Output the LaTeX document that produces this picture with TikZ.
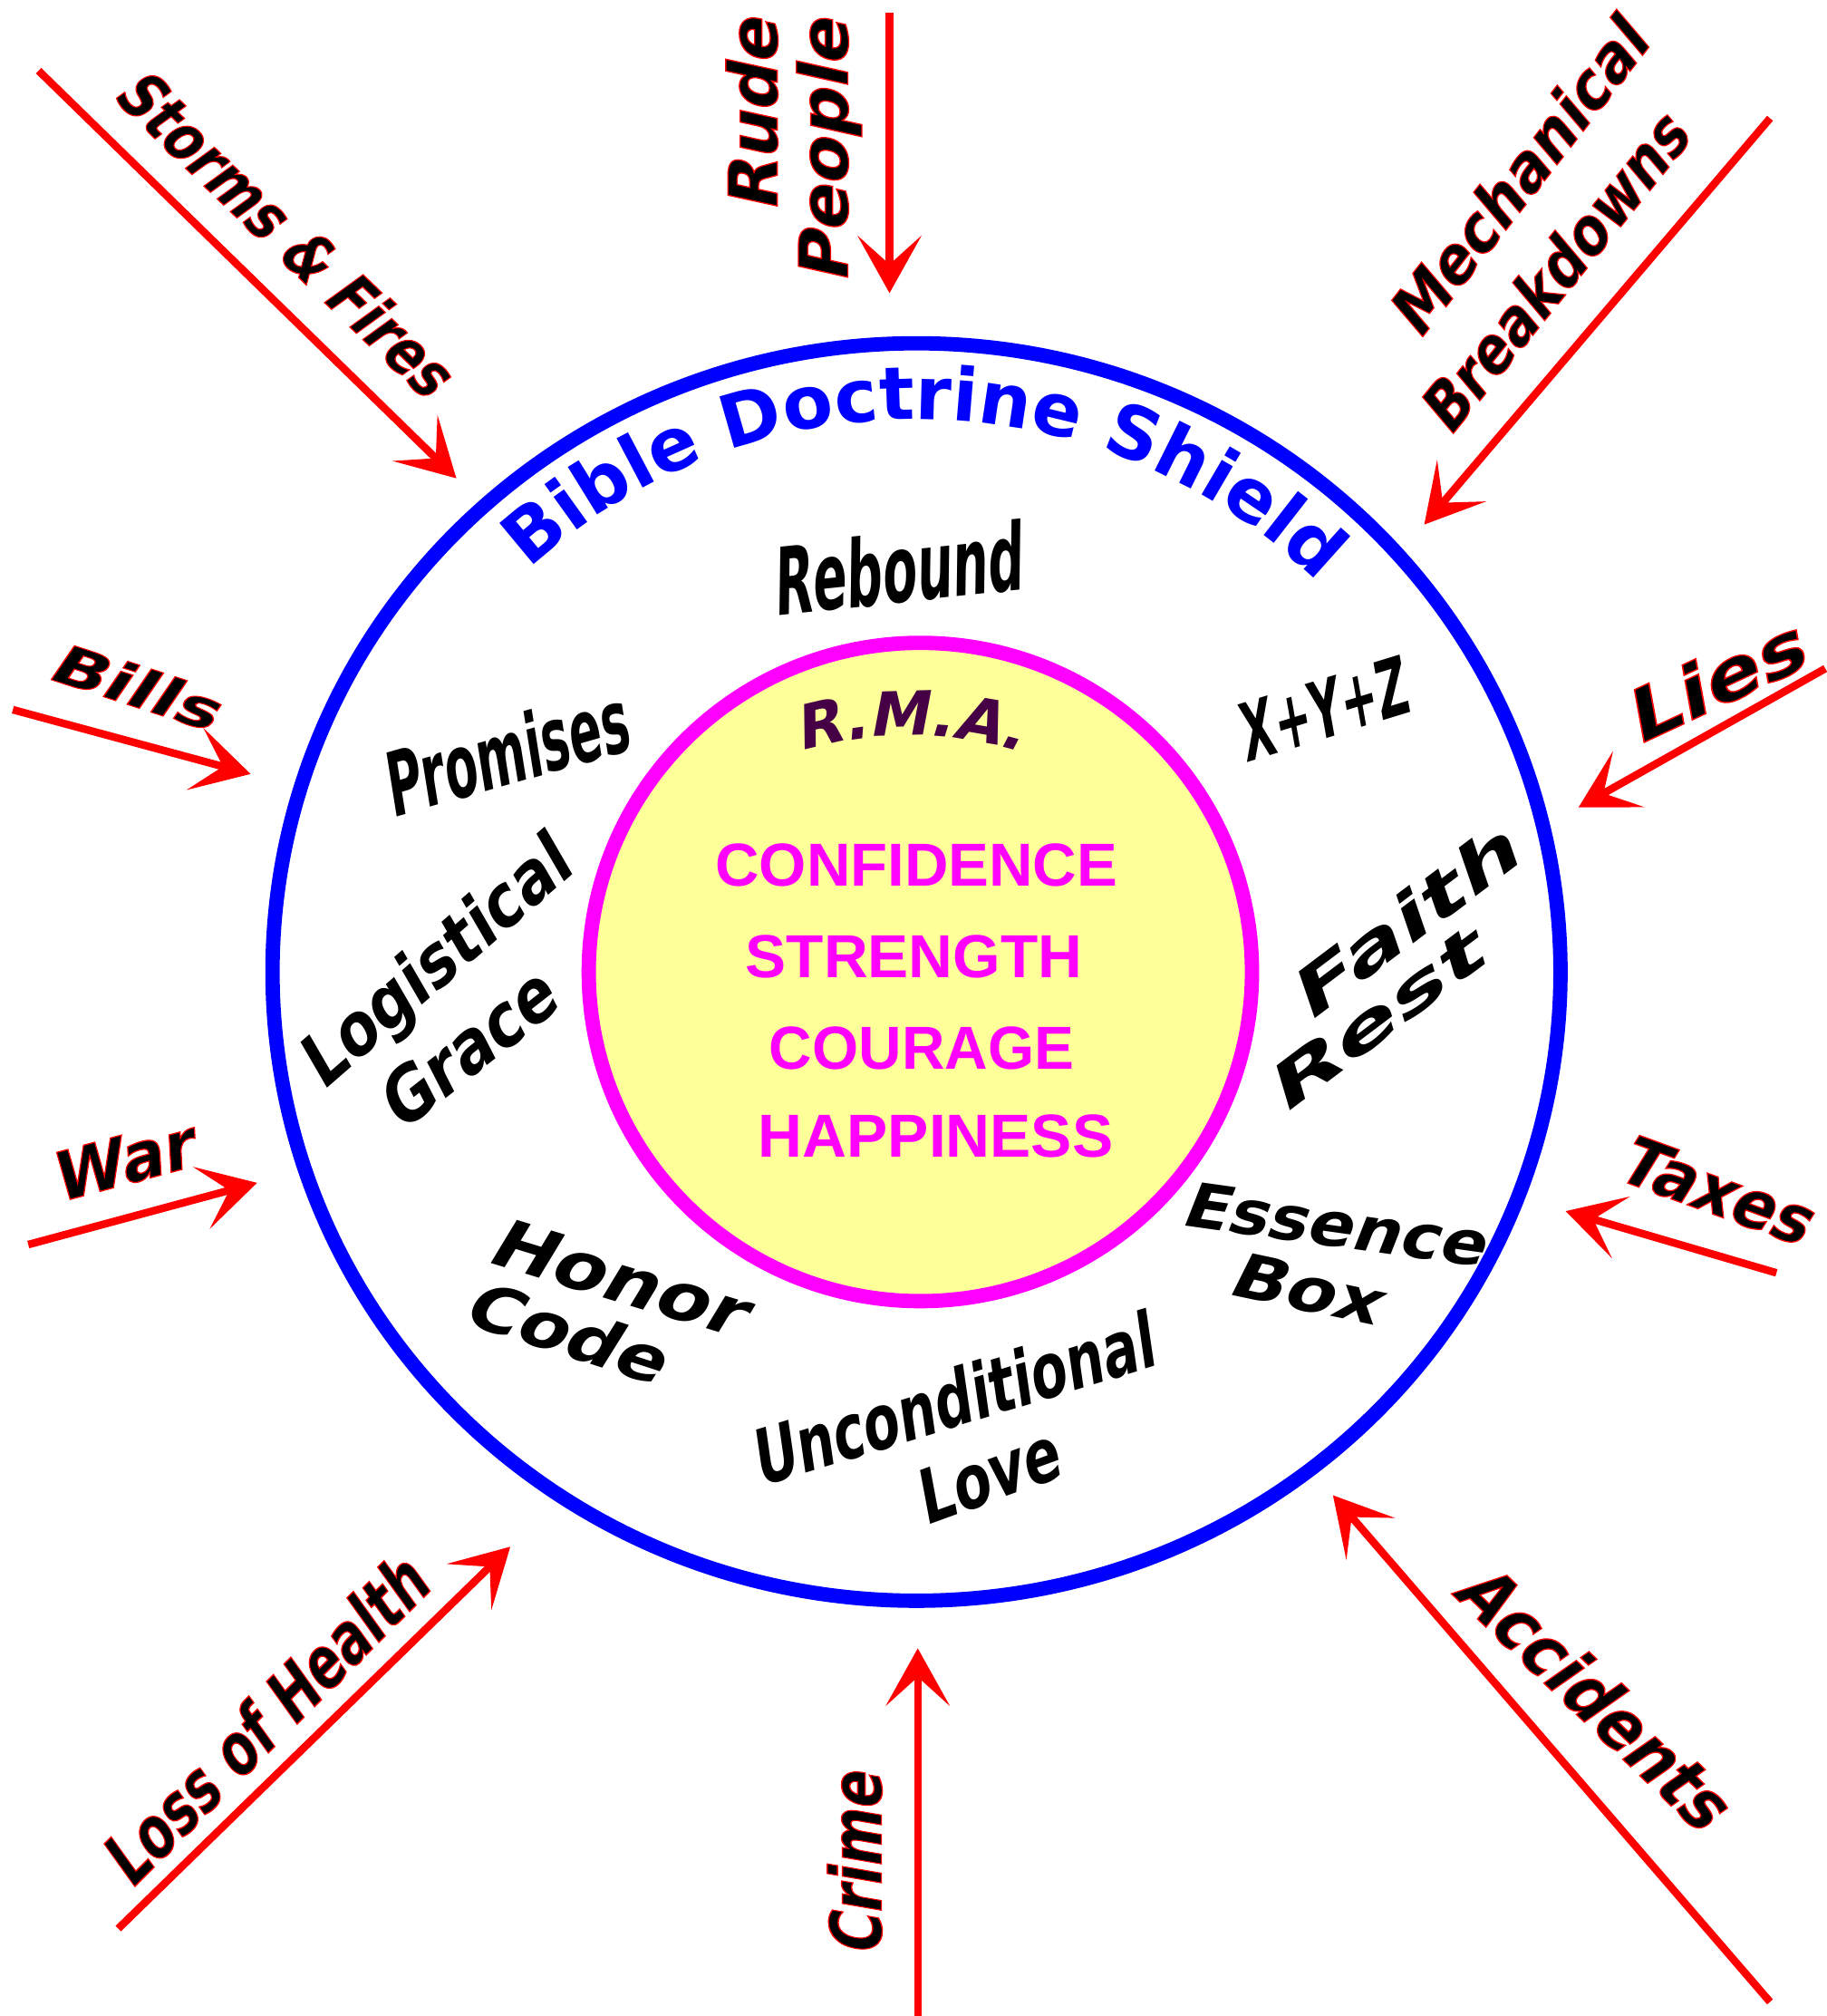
\documentclass[tikz,border=0pt]{standalone}
\usepackage{fontspec}
\setmainfont{Liberation Sans}
\newfontfamily\heavy{DejaVu Sans Bold}
\newfontfamily\heavyslant{DejaVu Sans Bold}[FakeSlant=0.22]
\usepackage{graphicx}
\usetikzlibrary{arrows.meta}
\usetikzlibrary{decorations.text}
\definecolor{shieldblue}{RGB}{0,0,255}
\definecolor{rmapink}{RGB}{255,0,255}
\definecolor{rmafill}{RGB}{255,255,153}
\definecolor{rmaword}{RGB}{70,0,70}
\newlength\upx
\setlength\upx{0.01418cm}
\newcommand\art[3]{\resizebox{#1\upx}{#2\upx}{#3}}
\newcommand\hurt[1]{\special{pdf:literal direct 2 Tr 1 0 0 RG 0.35 w}#1}
\tikzstyle{hit}=[line width=2.4pt,red,-{Stealth[length=18pt,width=20pt,inset=9pt]}]
\tikzstyle{trouble}=[inner sep=0pt,font=\heavyslant\fontsize{20}{20}\selectfont]
\tikzstyle{virtue}=[inner sep=0pt,font=\heavyslant\fontsize{20}{20}\selectfont]
\tikzstyle{result}=[inner sep=0pt,text=rmapink,font=\bfseries\fontsize{20}{20}\selectfont]
\begin{document}
\begin{tikzpicture}[x=0.01418cm,y=-0.01418cm]
	\useasboundingbox (0,0) rectangle (1421,1568);
	% the shield and the core
	\draw[shieldblue,line width=4.5pt] (713,756) ellipse [x radius=501,y radius=489];
	\draw[rmapink,line width=4.5pt,fill=rmafill] (716,756) ellipse [x radius=258,y radius=256];
	\path[decorate,decoration={text along path,text align=center,
	  text={|\heavy\fontsize{23}{23}\selectfont\color{shieldblue}|Bible Doctrine Shield}}]
	  (713,756) ++(-140:440 and 430) arc [start angle=-140,end angle=-38,x radius=440,y radius=430];
	\path[decorate,decoration={text along path,text align=center,
	  text={|\heavyslant\fontsize{19}{19}\selectfont\color{rmaword}|R.M.A.}}]
	  (708,870) ++(-118:298) arc [start angle=-118,end angle=-62,radius=298];
	\node[result] (conf)  at (713,673) {\art{313}{33}{CONFIDENCE}};
	\node[result] (str)   at (711,744) {\art{262}{33}{STRENGTH}};
	\node[result] (cour)  at (717,815) {\art{237}{33}{COURAGE}};
	\node[result] (happy) at (728,884) {\art{276}{33}{HAPPINESS}};
	% doctrines inside the shield
	\node[virtue,rotate=6]   (rebound)  at (697,442)  {\art{195}{55}{Rebound}};
	\node[virtue,rotate=16]  (promises) at (392,585)  {\art{195}{52}{Promises}};
	\node[virtue,rotate=17]  (xyz)      at (1028,552) {\art{135}{45}{X+Y+Z}};
	\node[virtue,rotate=41]  (logist)   at (340,752)  {\art{262}{42}{Logistical}};
	\node[virtue,rotate=38]  (grace)    at (362,816)  {\art{160}{42}{Grace}};
	\node[virtue,rotate=37]  (faith)    at (1090,718) {\art{210}{38}{Faith}};
	\node[virtue,rotate=37]  (rest)     at (1068,795) {\art{200}{34}{Rest}};
	\node[virtue,rotate=-8]  (essence)  at (1037,952) {\art{237}{35}{Essence}};
	\node[virtue,rotate=-12] (box)      at (1015,1002){\art{118}{35}{Box}};
	\node[virtue,rotate=-17] (honor)    at (480,993)  {\art{205}{38}{Honor}};
	\node[virtue,rotate=-18] (code)     at (440,1035) {\art{160}{38}{Code}};
	\node[virtue,rotate=17]  (uncond)   at (740,1088) {\art{325}{45}{Unconditional}};
	\node[virtue,rotate=20]  (love)     at (767,1148) {\art{115}{42}{Love}};
	% troubles outside
	\node[trouble,rotate=-44] (storms)  at (222,180)  {\art{340}{38}{\hurt{Storms \& Fires}}};
	\node[trouble,rotate=90]  (rude)    at (585,90)   {\art{150}{40}{\hurt{Rude}}};
	\node[trouble,rotate=90]  (people)  at (645,118)  {\art{205}{40}{\hurt{People}}};
	\node[trouble,rotate=52]  (mech)    at (1180,138) {\art{294}{38}{\hurt{Mechanical}}};
	\node[trouble,rotate=51]  (breaks)  at (1208,212) {\art{300}{38}{\hurt{Breakdowns}}};
	\node[trouble,rotate=-18] (bills)   at (104,533)  {\art{135}{32}{\hurt{Bills}}};
	\node[trouble,rotate=25]  (lies)    at (1332,530) {\art{148}{42}{\hurt{Lies}}};
	\node[trouble,rotate=15]  (war)     at (94,903)   {\art{112}{38}{\hurt{War}}};
	\node[trouble,rotate=-20] (taxes)   at (1334,925) {\art{155}{38}{\hurt{Taxes}}};
	\node[trouble,rotate=45]  (loss)    at (205,1338) {\art{332}{42}{\hurt{Loss of Health}}};
	\node[trouble,rotate=90]  (crime)   at (665,1450) {\art{142}{42}{\hurt{Crime}}};
	\node[trouble,rotate=-44] (accid)   at (1240,1318){\art{269}{42}{\hurt{Accidents}}};
	% arrows hitting the shield
	\coordinate (storms-a) at (30,55);    \coordinate (storms-b) at (355,372);
	\coordinate (rude-a)   at (692,10);   \coordinate (rude-b)   at (692,228);
	\coordinate (mech-a)   at (1377,92);  \coordinate (mech-b)   at (1108,408);
	\coordinate (bills-a)  at (10,552);   \coordinate (bills-b)  at (195,602);
	\coordinate (lies-a)   at (1420,520); \coordinate (lies-b)   at (1228,628);
	\coordinate (war-a)    at (22,968);   \coordinate (war-b)    at (200,920);
	\coordinate (taxes-a)  at (1382,990); \coordinate (taxes-b)  at (1218,942);
	\coordinate (loss-a)   at (92,1500);  \coordinate (loss-b)   at (397,1203);
	\coordinate (crime-a)  at (714,1568); \coordinate (crime-b)  at (714,1282);
	\coordinate (accid-a)  at (1377,1557);\coordinate (accid-b)  at (1037,1163);
	\draw[hit] (storms-a) -- (storms-b);
	\draw[hit] (rude-a) -- (rude-b);
	\draw[hit] (mech-a) -- (mech-b);
	\draw[hit] (bills-a) -- (bills-b);
	\draw[hit] (lies-a) -- (lies-b);
	\draw[hit] (war-a) -- (war-b);
	\draw[hit] (taxes-a) -- (taxes-b);
	\draw[hit] (loss-a) -- (loss-b);
	\draw[hit] (crime-a) -- (crime-b);
	\draw[hit] (accid-a) -- (accid-b);
\end{tikzpicture}
\end{document}
